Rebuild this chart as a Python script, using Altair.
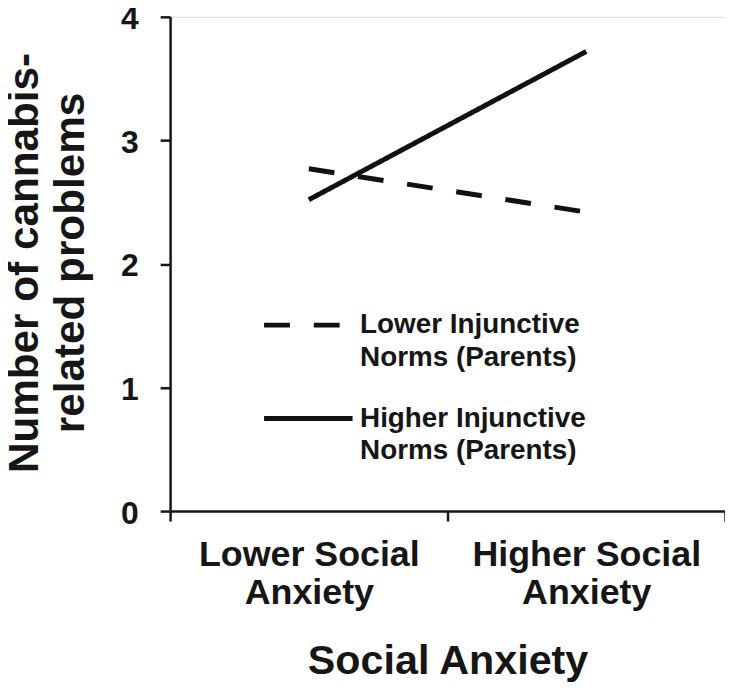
import altair as alt
import pandas as pd

anxiety_levels = ["Lower Social Anxiety", "Higher Social Anxiety"]
norm_groups = ["Lower Injunctive Norms (Parents)", "Higher Injunctive Norms (Parents)"]
lower_norms_values = [2.77, 2.42]
higher_norms_values = [2.52, 3.72]
y_ticks = [0, 1, 2, 3, 4]

rows = []
for lvl, v in zip(anxiety_levels, lower_norms_values):
    rows.append({"anxiety": lvl, "group": norm_groups[0], "problems": v})
for lvl, v in zip(anxiety_levels, higher_norms_values):
    rows.append({"anxiety": lvl, "group": norm_groups[1], "problems": v})
df = pd.DataFrame(rows)

INK = "#161616"
FONT = "Liberation Sans"

chart = alt.Chart(df).mark_line(color="#111111", strokeWidth=5).encode(
    x=alt.X(
        "anxiety:N",
        sort=anxiety_levels,
        scale=alt.Scale(type="band", paddingInner=0, paddingOuter=0),
        axis=alt.Axis(
            title="Social Anxiety",
            titleFont=FONT, titleFontSize=41.5, titleFontWeight="bold", titleColor=INK,
            titleX=279, titleY=163, titleAlign="center", titleBaseline="alphabetic",
            labelFont=FONT, labelFontSize=36, labelFontWeight="bold", labelColor=INK,
            labelAngle=0, labelBaseline="alphabetic", labelLineHeight=38,
            labelPadding=45, labelLimit=400,
            labelExpr="datum.label == 'Lower Social Anxiety' ? ['Lower Social', 'Anxiety'] : (datum.label == 'Higher Social Anxiety' ? ['Higher Social', 'Anxiety'] : '')",
            tickBand="extent", tickSize=10, tickWidth=2.5, tickColor=INK,
            domainColor=INK, domainWidth=2.5, grid=False,
        ),
    ),
    y=alt.Y(
        "problems:Q",
        scale=alt.Scale(domain=[0, 4], nice=False, zero=True),
        axis=alt.Axis(
            values=y_ticks, format="d",
            title=["Number of cannabis-", "related problems"],
            titleFont=FONT, titleFontSize=42.5, titleFontWeight="bold", titleColor=INK,
            titleAngle=270, titleX=-133, titleY=247, titleAlign="center",
            titleBaseline="alphabetic", titleLineHeight=46,
            labelFont=FONT, labelFontSize=32, labelFontWeight="bold", labelColor=INK,
            labelPadding=22, labelBaseline="middle", labelOffset=2,
            tickSize=10, tickWidth=2.5, tickColor=INK,
            domainColor=INK, domainWidth=2.5, grid=False,
        ),
    ),
    strokeDash=alt.StrokeDash(
        "group:N",
        scale=alt.Scale(domain=norm_groups, range=[[26, 24], [1, 0]]),
        legend=alt.Legend(
            title=None, orient="none", legendX=92, legendY=263, padding=0,
            symbolType="stroke", symbolSize=7921, symbolStrokeWidth=5,
            symbolStrokeColor="#111111",
            labelFont=FONT, labelFontSize=28, labelFontWeight="bold", labelColor=INK,
            labelBaseline="middle", labelOffset=5,
            labelLimit=400, rowPadding=-14,
            labelExpr="[replace(datum.label, ' Norms (Parents)', ''), 'Norms (Parents)']",
        ),
    ),
).properties(
    width=558, height=497,
    autosize=alt.AutoSizeParams(type="none"),
    padding={"left": 163, "top": 7, "right": 0, "bottom": 175},
).configure_view(stroke=None).configure(
    background="white",
    style={"guide-label": {"lineHeight": 33}},
)

chart.save("out.html", embed_options={"renderer": "svg", "actions": False})
